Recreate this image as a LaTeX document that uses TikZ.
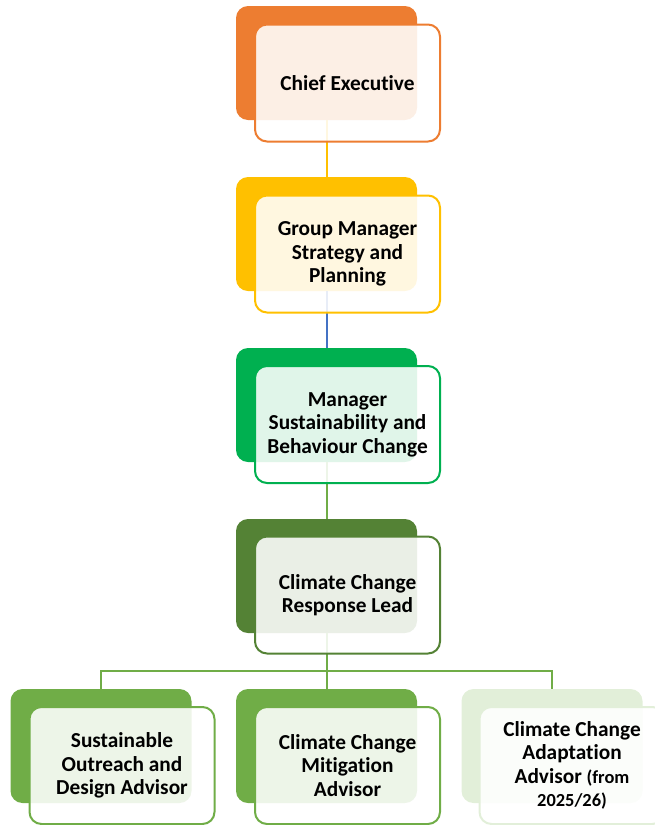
\documentclass[tikz,border=0pt]{standalone}
\usepackage{fontspec}
\setmainfont{Carlito}[Ligatures={NoCommon}]
\definecolor{cOrange}{HTML}{ED7D31}
\definecolor{cGold}{HTML}{FFC000}
\definecolor{cBlue}{HTML}{4472C4}
\definecolor{cGreen}{HTML}{00B050}
\definecolor{cDark}{HTML}{548235}
\definecolor{cLeaf}{HTML}{70AD47}
\definecolor{cPale}{HTML}{E2EFD9}
\tikzset{
  backbox/.style={rectangle, rounded corners=9pt, fill=#1, draw=none,
    minimum width=135.75pt, minimum height=85.5pt, inner sep=0pt},
  frontbox/.style={rectangle, rounded corners=9pt, draw=#1, line width=1.5pt,
    fill=white, fill opacity=0.88, text opacity=1,
    minimum width=138.75pt, minimum height=87.75pt, inner sep=1pt,
    align=center, font=\fontsize{16}{17.6}\selectfont\bfseries},
  link/.style={draw=#1, line width=1.5pt}
}
\newcommand{\smalltxt}{\fontsize{13.8}{17.6}\selectfont}
\begin{document}
\begin{tikzpicture}[x=0.75pt,y=-0.75pt]
\useasboundingbox (0,0) rectangle (655,825);

% back panels
\node[backbox=cOrange] (ceB) at (326.5,63) {};
\node[backbox=cGold]   (gmB) at (326.5,234) {};
\node[backbox=cGreen]  (msB) at (326.5,405) {};
\node[backbox=cDark]   (crB) at (326.5,576) {};
\node[backbox=cLeaf]   (soB) at (101,746) {};
\node[backbox=cLeaf]   (miB) at (326.5,746) {};
\node[backbox=cPale]   (adB) at (552,746) {};

% reporting lines
\coordinate (j) at (326.5,671);
\draw[link=cGold] (ceB.south) -- (gmB.north);
\draw[link=cBlue] (gmB.south) -- (msB.north);
\draw[link=cLeaf] (msB.south) -- (crB.north);
\draw[link=cLeaf] (crB.south) -- (miB.north);
\draw[link=cLeaf] (soB.north) -- (soB.north |- j) -- (adB.north |- j) -- (adB.north);

% front cards
\node[frontbox=cOrange] (ce) at (347.5,83) {Chief Executive};
\node[frontbox=cGold]   (gm) at (347.5,254) {Group Manager\\Strategy and\\Planning};
\node[frontbox=cGreen]  (ms) at (347.5,424.5) {Manager\\Sustainability and\\Behaviour Change};
\node[frontbox=cDark]   (cr) at (347.5,595) {Climate Change\\Response Lead};
\node[frontbox=cLeaf]   (so) at (122,765.5) {Sustainable\\Outreach and\\Design Advisor};
\node[frontbox=cLeaf]   (mi) at (347.5,765.5) {Climate Change\\Mitigation\\Advisor};
\node[frontbox=cPale]   (ad) at (572,765.5) {Climate Change\\Adaptation\\Advisor {\smalltxt(from}\\{\smalltxt 2025/26)}};
\end{tikzpicture}
\end{document}
